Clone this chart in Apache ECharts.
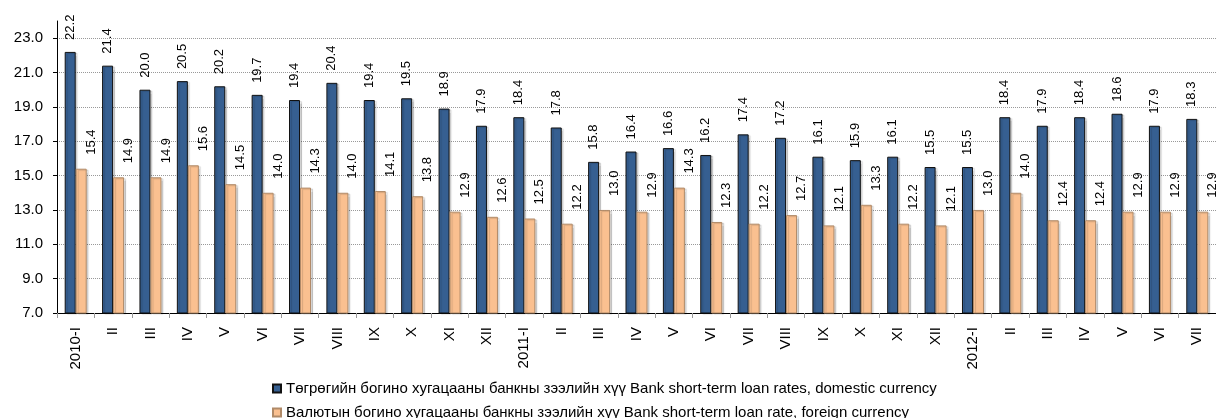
<!DOCTYPE html>
<html>
<head>
<meta charset="utf-8">
<script src="https://cdn.jsdelivr.net/npm/echarts@6/dist/echarts.min.js"></script>
<style>
  html, body { margin: 0; padding: 0; background: #fff; }
  #chart { width: 1216px; height: 418px; }
</style>
</head>
<body>
<div id="chart"></div>
<script>
// categories (months)
const categories = [
  '2010-I', 'II', 'III', 'IV', 'V', 'VI', 'VII', 'VIII', 'IX', 'X', 'XI', 'XII',
  '2011-I', 'II', 'III', 'IV', 'V', 'VI', 'VII', 'VIII', 'IX', 'X', 'XI', 'XII',
  '2012-I', 'II', 'III', 'IV', 'V', 'VI', 'VII'
];
// domestic currency
const domestic = [
  22.2, 21.4, 20.0, 20.5, 20.2, 19.7, 19.4, 20.4, 19.4, 19.5, 18.9, 17.9,
  18.4, 17.8, 15.8, 16.4, 16.6, 16.2, 17.4, 17.2, 16.1, 15.9, 16.1, 15.5,
  15.5, 18.4, 17.9, 18.4, 18.6, 17.9, 18.3
];
// foreign currency
const foreign = [
  15.4, 14.9, 14.9, 15.6, 14.5, 14.0, 14.3, 14.0, 14.1, 13.8, 12.9, 12.6,
  12.5, 12.2, 13.0, 12.9, 14.3, 12.3, 12.2, 12.7, 12.1, 13.3, 12.2, 12.1,
  13.0, 14.0, 12.4, 12.4, 12.9, 12.9, 12.9
];
const seriesNames = [
  'Төгрөгийн богино хугацааны банкны зээлийн хүү Bank short-term loan rates, domestic currency',
  'Валютын богино хугацааны банкны зээлийн хүү Bank short-term loan rate, foreign currency'
];

const font = "'Liberation Sans', Arial, sans-serif";
const chart = echarts.init(document.getElementById('chart'));

// vertical value labels above the bars
const labelConf = {
  show: true,
  position: 'top',
  rotate: 90,
  align: 'left',
  verticalAlign: 'middle',
  distance: 12,
  color: '#000',
  fontSize: 13,
  fontFamily: font,
  formatter: p => p.value.toFixed(1)
};

chart.setOption({
  backgroundColor: '#fff',
  animation: false,
  textStyle: { fontFamily: font },
  grid: {
    left: 57,
    top: 21,
    bottom: 105,
    width: 1178
  },
  legend: {
    orient: 'vertical',
    left: 272,
    top: 381,
    padding: 0,
    height: 60,
    itemWidth: 8,
    itemHeight: 8,
    itemGap: 9,
    icon: 'rect',
    textStyle: { fontSize: 15, color: '#000', fontFamily: font },
    data: seriesNames
  },
  xAxis: {
    type: 'category',
    data: categories,
    axisLine: { lineStyle: { color: '#000', width: 1 } },
    axisTick: { show: true, length: 5, lineStyle: { color: '#999' } },
    axisLabel: {
      interval: 0,
      rotate: 90,
      margin: 14,
      fontSize: 15,
      color: '#000',
      fontFamily: font
    }
  },
  yAxis: {
    type: 'value',
    min: 7,
    max: 24,
    interval: 2,
    axisLine: { show: true, lineStyle: { color: '#000', width: 1 } },
    axisTick: { show: true, length: 4, lineStyle: { color: '#000' } },
    axisLabel: {
      margin: 14,
      fontSize: 15,
      color: '#000',
      fontFamily: font,
      showMaxLabel: false,
      formatter: v => v.toFixed(1)
    },
    splitLine: {
      show: true,
      showMaxLine: false,
      showMinLine: false,
      lineStyle: { color: '#999', type: 'dotted', width: 1 }
    }
  },
  series: [
    {
      name: seriesNames[0],
      type: 'bar',
      data: domestic,
      barWidth: 11,
      barGap: '0%',
      itemStyle: {
        color: '#365F91',
        borderColor: '#111',
        borderWidth: 1,
        shadowColor: 'rgba(0,0,0,0.15)',
        shadowOffsetX: 2,
        shadowOffsetY: 1,
        shadowBlur: 1
      },
      label: labelConf
    },
    {
      name: seriesNames[1],
      type: 'bar',
      data: foreign,
      barWidth: 11,
      itemStyle: {
        color: '#FAC090',
        borderColor: '#B08A68',
        borderWidth: 1,
        shadowColor: 'rgba(0,0,0,0.15)',
        shadowOffsetX: 2,
        shadowOffsetY: 1,
        shadowBlur: 1
      },
      label: Object.assign({}, labelConf, { offset: [0, 10], distance: 14 })
    }
  ]
});
</script>
</body>
</html>
